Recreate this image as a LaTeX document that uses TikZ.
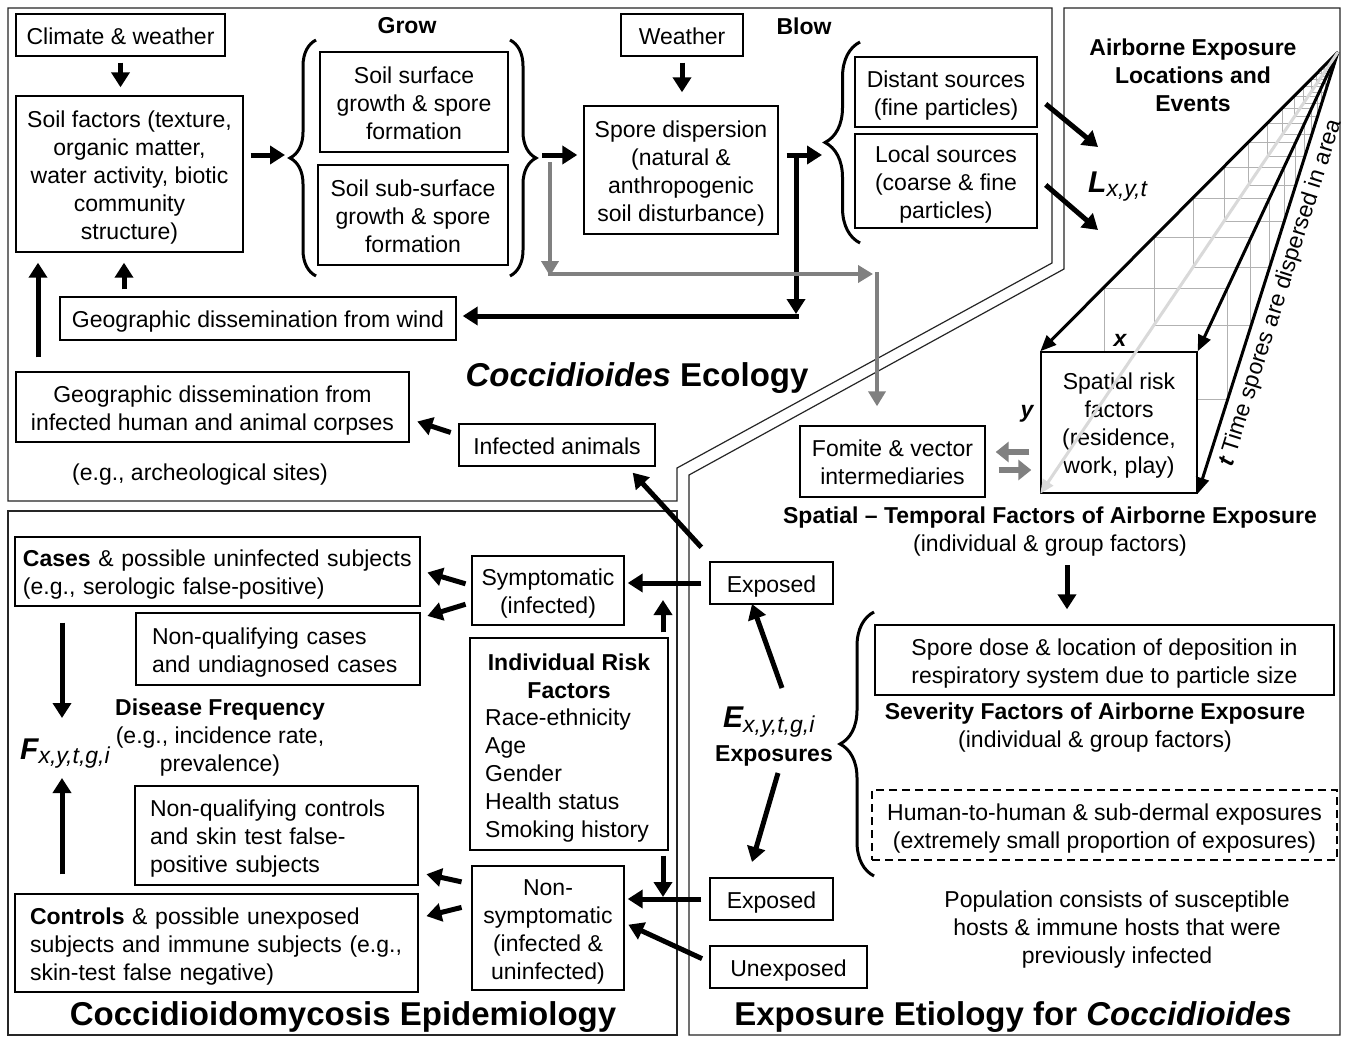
\documentclass[tikz,border=0pt]{standalone}
\usepackage{fontspec}
\setmainfont{Liberation Sans}
\usetikzlibrary{arrows.meta,decorations.pathreplacing,calc}
\newcommand{\nfs}{\fontsize{23}{28}\selectfont}
\newcommand{\tfs}{\fontsize{33}{38}\selectfont\bfseries}
\newcommand{\bigsym}{\fontsize{30}{30}\selectfont\bfseries\itshape}
\newcommand{\tb}{\rule[-4.5pt]{0pt}{27.5pt}}
\begin{document}
\begin{tikzpicture}[x=1pt,y=-1pt,
 every node/.style={font=\nfs, inner sep=0pt},
 bx/.style n args={2}{draw, line width=1.4pt, align=center, fill=white, minimum width=#1pt, minimum height=#2pt},
 lbx/.style n args={3}{draw, line width=1.4pt, align=left, fill=white, text width=#1pt, minimum height=#2pt, inner xsep=#3pt},
 arr/.style={line width=5pt, -{Triangle[length=15pt,width=18pt]}, shorten <=6pt, shorten >=7pt},
 garr/.style={color=gray, line width=4.5pt, -{Triangle[length=15pt,width=17pt]}},
 garrb/.style={color=gray, line width=6pt, -{Triangle[length=13pt,width=20pt]}},
 conearr/.style={line width=3pt, -{Triangle[length=16pt,width=13pt]}},
 lgarr/.style={color=black!15, line width=3pt, -{Triangle[length=14pt,width=12pt]}},
 gridln/.style={draw=black!30, line width=0.8pt},
 regframe/.style={draw=black!85, line width=1.2pt},
 brc/.style={line width=3pt, decorate},
 ttl/.style={font=\tfs},
 blab/.style={font=\nfs\bfseries},
]
\useasboundingbox (0,0) rectangle (1348,1038);
\fill[white] (0,0) rectangle (1348,1038);

% region frames
\draw[regframe] (8,8) -- (1052,8) -- (1052,263) -- (677,468) -- (677,501) -- (8,501) -- cycle;
\draw[regframe] (8,511) rectangle (677,1035);
\draw[regframe] (1064,8) -- (1340,8) -- (1340,1035) -- (689,1035) -- (689,475) -- (1064,269) -- cycle;

% perspective grid
\foreach \k in {1,...,16} {
  \pgfmathsetmacro{\s}{1-0.787^\k}
  \draw[gridln] ({1041+297*\s},{352-300*\s}) rectangle ({1197+141*\s},{493-441*\s});
}

% braces
\draw[brc, decoration={brace, amplitude=26pt}] (316,276) -- (316,40);
\draw[brc, decoration={brace, amplitude=26pt}] (510,40) -- (510,276);
\draw[brc, decoration={brace, amplitude=35pt}] (860,243) -- (860,42);
\draw[brc, decoration={brace, amplitude=34pt}] (874,876) -- (874,612);

% ecology boxes
\node[bx={209}{42}] (clim) at (120.5,35) {\tb Climate \& weather};
\node[bx={227}{156}] (soil) at (129.5,174) {\tb Soil factors (texture,\\organic matter,\\water activity, biotic\\community\\\tb structure)};
\node[bx={188}{100}] (surf) at (414,102) {\tb Soil surface\\growth \& spore\\\tb formation};
\node[bx={190}{100}] (sub) at (413,215) {\tb Soil sub-surface\\growth \& spore\\\tb formation};
\node[bx={122}{42}] (weather) at (682,35) {\tb Weather};
\node[bx={194}{128}] (spore) at (681,170) {\tb Spore dispersion\\(natural \&\\anthropogenic\\\tb soil disturbance)};
\node[bx={182}{70}] (distant) at (946,92) {\tb Distant sources\\\tb (fine particles)};
\node[bx={182}{94}] (local) at (946,181) {\tb Local sources\\(coarse \& fine\\\tb particles)};
\node[bx={396}{43}] (wind) at (258,318.5) {\tb Geographic dissemination from wind};
\node[bx={393}{70}] (corpses) at (212.5,407) {\tb Geographic dissemination from\\\tb infected human and animal corpses};
\node[bx={196}{42}] (animals) at (557,445) {\tb Infected animals};

% exposure boxes
\node[bx={156}{141}] (spatial) at (1119,422.5) {\tb Spatial risk\\factors\\(residence,\\\tb work, play)};
\node[bx={185}{71}] (fomite) at (892.5,461.5) {\tb Fomite \& vector\\\tb intermediaries};
\node[bx={459}{70}] (dose) at (1104.5,660) {\tb Spore dose \& location of deposition in\\\tb respiratory system due to particle size};
\node[bx={465}{70}, line width=1.2pt, dash pattern=on 8pt off 5pt] (human) at (1104.5,825) {\tb Human-to-human \& sub-dermal exposures\\\tb (extremely small proportion of exposures)};
\node[bx={123}{42}] (exp1) at (771.5,583) {\tb Exposed};
\node[bx={123}{42}] (exp2) at (771.5,899) {\tb Exposed};
\node[bx={157}{42}] (unexp) at (788.5,967) {\tb Unexposed};

% epidemiology boxes
\node[bx={152}{69}] (sympt) at (548,590.5) {\tb Symptomatic\\\tb (infected)};
\node[bx={198}{212}] (risk) at (569,744) {};
\node[bx={152}{124}] (nonsym) at (548,928) {\tb Non-\\symptomatic\\(infected \&\\\tb uninfected)};
\node[lbx={389}{69}{8}] (cases) at (217.5,571.5) {\tb\mbox{\textbf{Cases} \& possible uninfected subjects}\\\tb (e.g., serologic false-positive)};
\node[lbx={252}{72}{16}] (nqcases) at (278,649) {\tb Non-qualifying cases\\\tb and undiagnosed cases};
\node[lbx={253}{99}{15}] (nqctrl) at (276.5,835.5) {\tb Non-qualifying controls\\and skin test false-\\\tb positive subjects};
\node[lbx={373}{98}{15}] (controls) at (216.5,943) {\tb\mbox{\textbf{Controls} \& possible unexposed}\\\mbox{subjects and immune subjects (e.g.,}\\\tb skin-test false negative)};

% labels
\node[blab] (grow) at (407,26) {Grow};
\node[blab] (blow) at (804,26) {Blow};
\node[ttl] (ecotitle) at (637,378) {{\itshape Coccidioides} Ecology};
\node[anchor=west] (arch) at (72,475) {(e.g., archeological sites)};
\node[blab, align=center] (airb) at (1193,75) {Airborne Exposure\\Locations and\\Events};
\node[anchor=base west] (Llab) at (1088,192) {{\bigsym L}\raisebox{-4pt}{\itshape x,y,t}};
\node[font=\nfs\bfseries\itshape] (xlab) at (1120,340) {x};
\node[font=\nfs\bfseries\itshape] (ylab) at (1027,414) {y};
\node[rotate=72.5] (tlab) at (1281,293) {{\bfseries\itshape t} Time spores are dispersed in area};
\node[align=center] (sttext) at (1050,531.5) {\textbf{Spatial – Temporal Factors of Airborne Exposure}\\(individual \& group factors)};
\node[align=center] (sevtext) at (1095,727.5) {\textbf{Severity Factors of Airborne Exposure}\\(individual \& group factors)};
\node[align=center] (pop) at (1117,930) {Population consists of susceptible\\hosts \& immune hosts that were\\previously infected};
\node[ttl] (exptitle) at (1013,1017) {Exposure Etiology for {\itshape Coccidioides}};
\node[anchor=base west] (Elab) at (723,727) {{\bigsym E}\raisebox{-5pt}{\itshape x,y,t,g,i}};
\node[blab] (exps) at (774,756) {Exposures};
\node[font=\nfs\bfseries, align=center] (risktitle) at (569,676) {Individual Risk\\Factors};
\node[anchor=west, align=left] (risklist) at (485,776) {Race-ethnicity\\Age\\Gender\\Health status\\Smoking history};
\node[anchor=base west] (Flab) at (20,759) {{\bigsym F}\raisebox{-4pt}{\itshape x,y,t,g,i}};
\node[align=center] (dfreq) at (220,738) {\textbf{Disease Frequency}\\(e.g., incidence rate,\\prevalence)};
\node[ttl] (epititle) at (343,1017) {Coccidioidomycosis Epidemiology};

% coordinates
\coordinate (gbl) at (290,155);
\coordinate (gbr) at (536,155);
\coordinate (bbl) at (825,155);
\coordinate (j1) at (796,155);
\coordinate (j2) at (796,316);
\coordinate (g1) at (550,162);
\coordinate (g2) at (550,274);
\coordinate (g3) at (877,274);
\coordinate (L1) at (1098,147);
\coordinate (L2) at (1098,230);
\coordinate (apex) at (1338,52);
\coordinate (e1s) at (782,688);
\coordinate (e1t) at (752,604);
\coordinate (e2s) at (778,773);
\coordinate (e2t) at (752,862);
\coordinate (ftop) at (62,718);
\coordinate (fbot) at (62,778);
\coordinate (stb) at (1067,565);

% ecology arrows
\draw[arr, shorten <=6pt, shorten >=8pt] (clim.south) -- (clim.south |- soil.north);
\draw[arr, shorten <=7pt, shorten >=5pt] (soil.east |- gbl) -- (gbl);
\draw[arr, shorten <=6pt, shorten >=6pt] (gbr) -- (gbr -| spore.west);
\draw[arr, shorten <=6pt, shorten >=13pt] (weather.south) -- (weather.south |- spore.north);
\draw[arr, shorten <=8pt, shorten >=3pt] (spore.east |- bbl) -- (bbl);
\draw[arr, shorten <=0pt, shorten >=2pt] (j1) -- (j2);
\draw[arr, shorten <=-2.5pt, shorten >=6pt] (j2) -- (j2 -| wind.east);
\draw[garr, shorten >=-2pt] (g1) -- (g2);
\draw[garr, shorten <=-2pt, shorten >=4pt] (g2) -- (g3);
\draw[garr, shorten <=-2pt, shorten >=19pt] (g3) -- (g3 |- fomite.north);
\draw[arr, shorten <=7pt, shorten >=10pt] (124,0 |- wind.north) -- (124,0 |- soil.south);
\draw[arr, shorten <=14pt, shorten >=10pt] (38,0 |- corpses.north) -- (38,0 |- soil.south);
\draw[arr, shorten <=8pt, shorten >=8pt] ([yshift=10pt]animals.west) -- ([yshift=-12pt]corpses.east);
\draw[arr, shorten <=0pt, shorten >=0pt] ([xshift=8pt,yshift=-12pt]distant.east) -- (L1);
\draw[arr, shorten <=0pt, shorten >=0pt] ([xshift=8pt,yshift=-4pt]local.east) -- (L2);

% exposure arrows
\draw[conearr] (apex) -- (spatial.north west);
\draw[conearr] (apex) -- (spatial.north east);
\draw[conearr] (apex) -- (spatial.south east);
\draw[lgarr] (apex) -- (spatial.south west);
\draw[garrb, shorten <=11pt, shorten >=10pt] (spatial.west |- 0,452) -- (fomite.east |- 0,452);
\draw[garrb, shorten <=13pt, shorten >=9pt] (fomite.east |- 0,470) -- (spatial.west |- 0,470);
\draw[arr, shorten <=0pt, shorten >=15pt] (stb) -- (stb |- dose.north);
\draw[arr, shorten <=0pt, shorten >=0pt] (e1s) -- (e1t);
\draw[arr, shorten <=0pt, shorten >=0pt] (e2s) -- (e2t);
\draw[arr, shorten <=0pt, shorten >=0pt] ([xshift=-8pt,yshift=14pt]exp1.north west) -- ([xshift=-23pt,yshift=-6pt]animals.south east);
\draw[arr, shorten <=8pt, shorten >=3pt] (exp1.west) -- (exp1.west -| sympt.east);
\draw[arr, shorten <=8pt, shorten >=3pt] (exp2.west) -- (exp2.west -| nonsym.east);
\draw[arr, shorten <=8pt, shorten >=4pt] ([yshift=5pt]unexp.west) -- ([yshift=5pt]nonsym.east);

% epidemiology arrows
\draw[arr, shorten <=5pt, shorten >=17pt] (663,0 |- risk.north) -- (663,0 |- exp1.west);
\draw[arr, shorten <=5pt, shorten >=2pt] (663,0 |- risk.south) -- (663,0 |- exp2.west);
\draw[arr, shorten <=6pt, shorten >=7pt] ([yshift=5pt]sympt.west) -- ([yshift=1pt]cases.east);
\draw[arr, shorten <=6pt, shorten >=7pt] ([yshift=-12pt]sympt.west) -- ([yshift=31pt]nqcases.east);
\draw[arr, shorten <=10pt, shorten >=8pt] ([yshift=44pt]nonsym.west) -- ([yshift=-37pt]nqctrl.east);
\draw[arr, shorten <=10pt, shorten >=8pt] ([yshift=23pt]nonsym.west) -- ([yshift=25pt]controls.east);
\draw[arr, shorten <=16pt, shorten >=0pt] (62,0 |- cases.south) -- (ftop);
\draw[arr, shorten <=19pt, shorten >=0pt] (62,0 |- controls.north) -- (fbot);
\end{tikzpicture}
\end{document}
